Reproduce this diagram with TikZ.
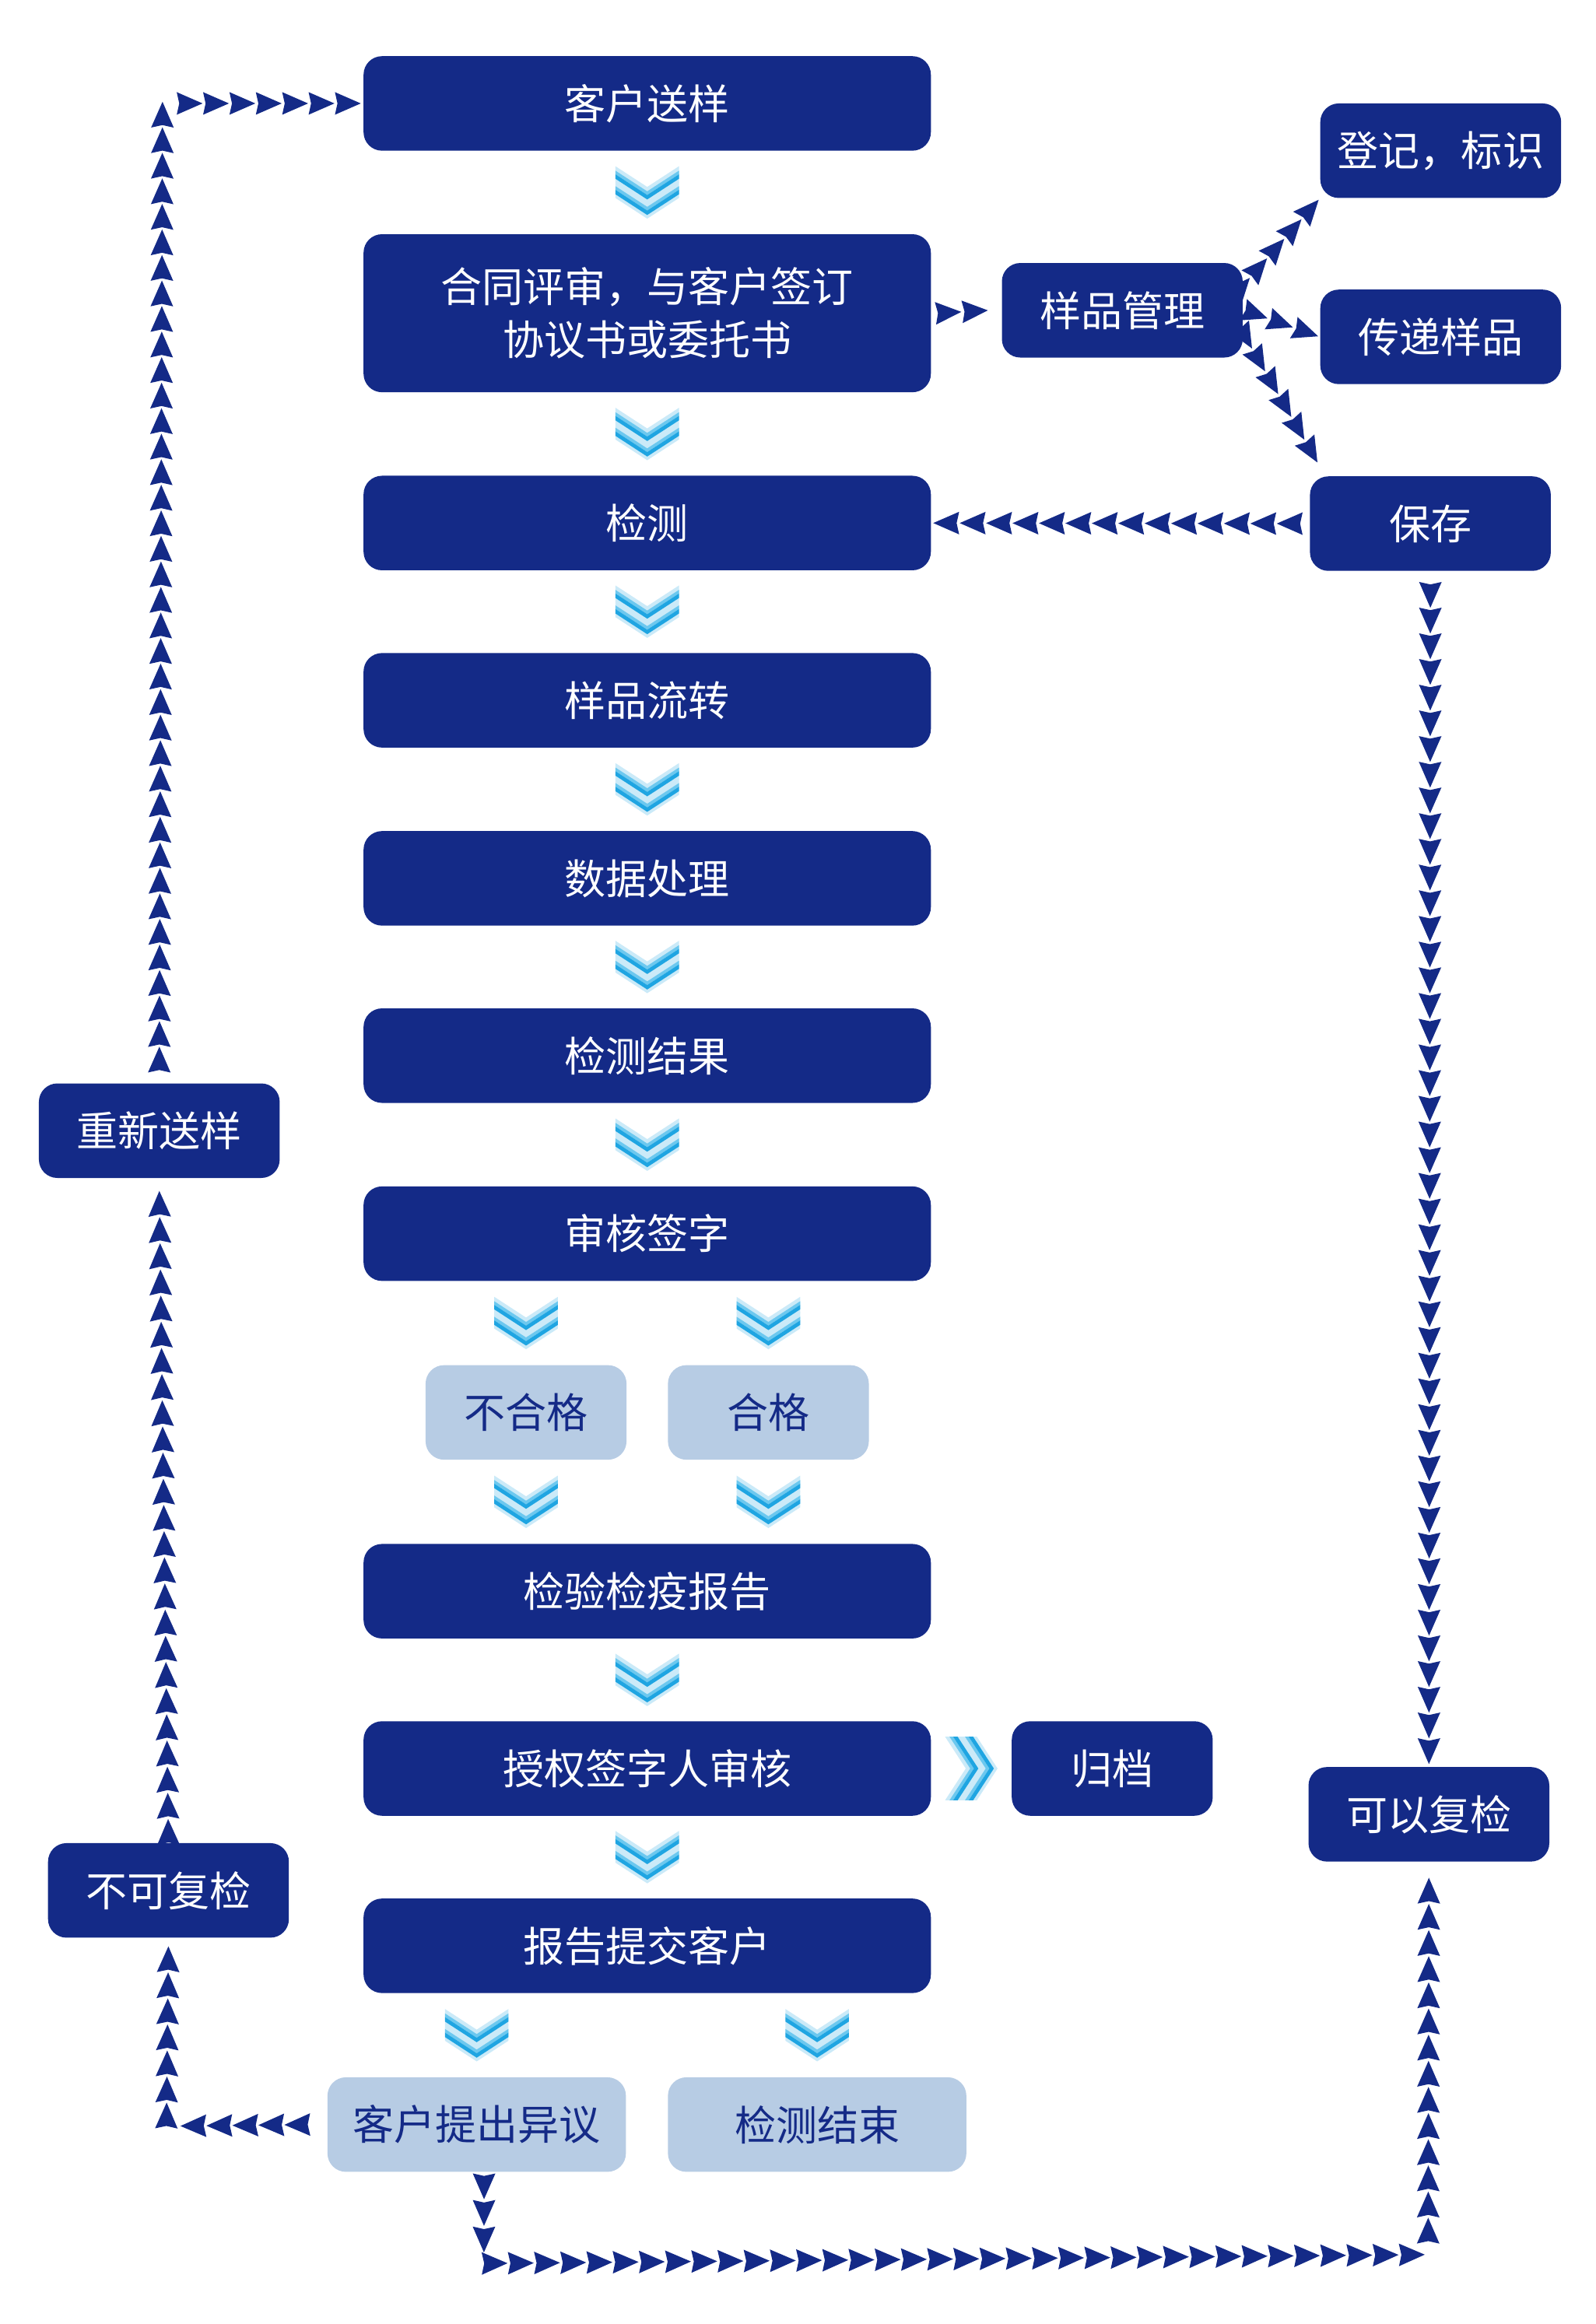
\documentclass[tikz,border=0pt]{standalone}
\usepackage{fontspec}
\usepackage{tikz}
\usetikzlibrary{shapes,arrows,calc,decorations.markings}
\newfontfamily\cjk{Noto Sans CJK SC}
\definecolor{deepnavy}{HTML}{142A87}
\definecolor{paleslate}{HTML}{B7CCE4}
\definecolor{chevpale}{HTML}{CBEAF8}
\definecolor{chevmid}{HTML}{6CC8EF}
\definecolor{chevdark}{HTML}{1FA5E2}
% double chevron between two boxes: position, angle
\newcommand{\flowchev}[2]{%
  \begin{scope}[shift={#1}, rotate=#2]
    \foreach \o in {-17.75,-7.25}{
      \fill[chevpale] (-21.5,\o) -- (0,\o+14) -- (21.5,\o) -- (21.5,\o+11) -- (0,\o+25) -- (-21.5,\o+11) -- cycle;
      \fill[chevmid] (-21.5,\o+3) -- (0,\o+17) -- (21.5,\o+3) -- (21.5,\o+5.5) -- (0,\o+19.5) -- (-21.5,\o+5.5) -- cycle;
      \fill[chevdark] (-21.5,\o+5.5) -- (0,\o+19.5) -- (21.5,\o+5.5) -- (21.5,\o+8.5) -- (0,\o+22.5) -- (-21.5,\o+8.5) -- cycle;
    }
  \end{scope}}

\begin{document}
\begin{tikzpicture}[x=0.02cm, y=-0.02cm,
  darkbox/.style={fill=deepnavy, text=white, rounded corners=0.25cm, minimum height=1.28cm, inner sep=0pt, align=center, font=\cjk\fontsize{15.9pt}{20.5pt}\selectfont},
  lightbox/.style={darkbox, fill=paleslate, text=deepnavy},
  headchain/.style={decoration={markings, mark=between positions #1-1pt and 1 step #1 with {\fill[deepnavy] (0,0) -- (-0.35cm,0.153cm) -- (-0.316cm,0) -- (-0.35cm,-0.153cm) -- cycle;}}, decorate},
  headchain/.default=0.35cm]
  \useasboundingbox (0,0) rectangle (1080,1573);
  % Nodes
  \node[darkbox, minimum width=7.68cm](kcsy) at (438,70) {客户送样};
  \node[darkbox, minimum width=7.68cm, minimum height=2.14cm](htps) at (438,212) {合同评审，与客户签订\\协议书或委托书};
  \node[darkbox, minimum width=7.68cm](jc) at (438,354) {检测};
  \node[darkbox, minimum width=7.68cm](ypl) at (438,474) {样品流转};
  \node[darkbox, minimum width=7.68cm](sjcl) at (438,594.5) {数据处理};
  \node[darkbox, minimum width=7.68cm](jcjg) at (438,714.5) {检测结果};
  \node[darkbox, minimum width=7.68cm](shqz) at (438,835) {审核签字};
  \node[lightbox, minimum width=2.72cm](bhg) at (356,956) {不合格};
  \node[lightbox, minimum width=2.72cm](hg) at (520,956) {合格};
  \node[darkbox, minimum width=7.68cm](jybg) at (438,1077) {检验检疫报告};
  \node[darkbox, minimum width=7.68cm](sqsh) at (438,1197) {授权签字人审核};
  \node[darkbox, minimum width=2.72cm](gd) at (752.7,1197) {归档};
  \node[darkbox, minimum width=7.68cm](bgtj) at (438,1317) {报告提交客户};
  \node[lightbox, minimum width=4.04cm](khyy) at (322.6,1438) {客户提出异议};
  \node[lightbox, minimum width=4.04cm](jcjs) at (553,1438) {检测结束};
  \node[darkbox, minimum width=3.26cm](ypgl) at (759.5,210) {样品管理};
  \node[darkbox, minimum width=3.26cm](djbs) at (975,102) {登记，标识};
  \node[darkbox, minimum width=3.26cm](cdyp) at (975,228) {传递样品};
  \node[darkbox, minimum width=3.26cm](bc) at (968,354.4) {保存};
  \node[darkbox, minimum width=3.26cm](cxsy) at (107.8,765.3) {重新送样};
  \node[darkbox, minimum width=3.26cm](bkfj) at (114,1279.5) {不可复检};
  \node[darkbox, minimum width=3.26cm](kyfj) at (967,1228) {可以复检};
  \coordinate (tl) at (110,67);
  \coordinate (bl) at (112.6,1439);
  \coordinate (bm) at (327.5,1532);
  \coordinate (br) at (966.5,1526);
  % Chevrons
  \flowchev{($(kcsy.south)!0.5!(htps.north)$)}{0}
  \flowchev{($(htps.south)!0.5!(jc.north)$)}{0}
  \flowchev{($(jc.south)!0.5!(ypl.north)$)}{0}
  \flowchev{($(ypl.south)!0.5!(sjcl.north)$)}{0}
  \flowchev{($(sjcl.south)!0.5!(jcjg.north)$)}{0}
  \flowchev{($(jcjg.south)!0.5!(shqz.north)$)}{0}
  \flowchev{($(bhg.north)!0.5!(bhg.north |- shqz.south)$)}{0}
  \flowchev{($(hg.north)!0.5!(hg.north |- shqz.south)$)}{0}
  \flowchev{($(bhg.south)!0.5!(bhg.south |- jybg.north)$)}{0}
  \flowchev{($(hg.south)!0.5!(hg.south |- jybg.north)$)}{0}
  \flowchev{($(jybg.south)!0.5!(sqsh.north)$)}{0}
  \flowchev{($(sqsh.east)!0.5!(gd.west)$)}{90}
  \flowchev{($(sqsh.south)!0.5!(bgtj.north)$)}{0}
  \flowchev{($(khyy.north)!0.5!(khyy.north |- bgtj.south)$)}{0}
  \flowchev{($(jcjs.north)!0.5!(jcjs.north |- bgtj.south)$)}{0}
  % Edges
  \path[headchain=0.3458cm] ($(cxsy.north)+(0,-9)$) -- (tl);
  \path[headchain=0.3570cm] ($(tl)+(11,3)$) -- (kcsy.west);
  \path[headchain=0.3544cm] (bkfj.north) -- ($(cxsy.south)+(0,7)$);
  \path[headchain=0.3518cm] ($(khyy.west)+(-13,0)$) -- ($(bl)+(8,0)$);
  \path[headchain=0.3527cm] (bl) -- ($(bkfj.south)+(0,4)$);
  \path[headchain=0.3577cm] ($(bc.west)+(-6,0)$) -- (jc.east);
  \path[headchain=0.3604cm] ($(htps.east)+(4,0)$) -- ($(ypgl.west)+(-8,0)$);
  \path[headchain=0.3525cm] ($(ypgl.east)+(-6,-10)$) -- (djbs.south west);
  \path[headchain=0.3634cm] ($(ypgl.east)+(1,0)$) -- (cdyp.west);
  \path[headchain=0.3557cm] ($(ypgl.east)+(-2,12)$) -- ($(bc.north west)+(6,-8)$);
  \path[headchain=0.3479cm] ($(bc.south)+(0,9)$) -- (kyfj.north);
  \path[headchain=0.3598cm] ($(khyy.south)+(5,2)$) -- ($(bm)+(0,-6)$);
  \path[headchain=0.3548cm] (bm) -- (br);
  \path[headchain=0.3541cm] ($(br)+(0,-9)$) -- ($(kyfj.south)+(0,9)$);
\end{tikzpicture}
\end{document}
